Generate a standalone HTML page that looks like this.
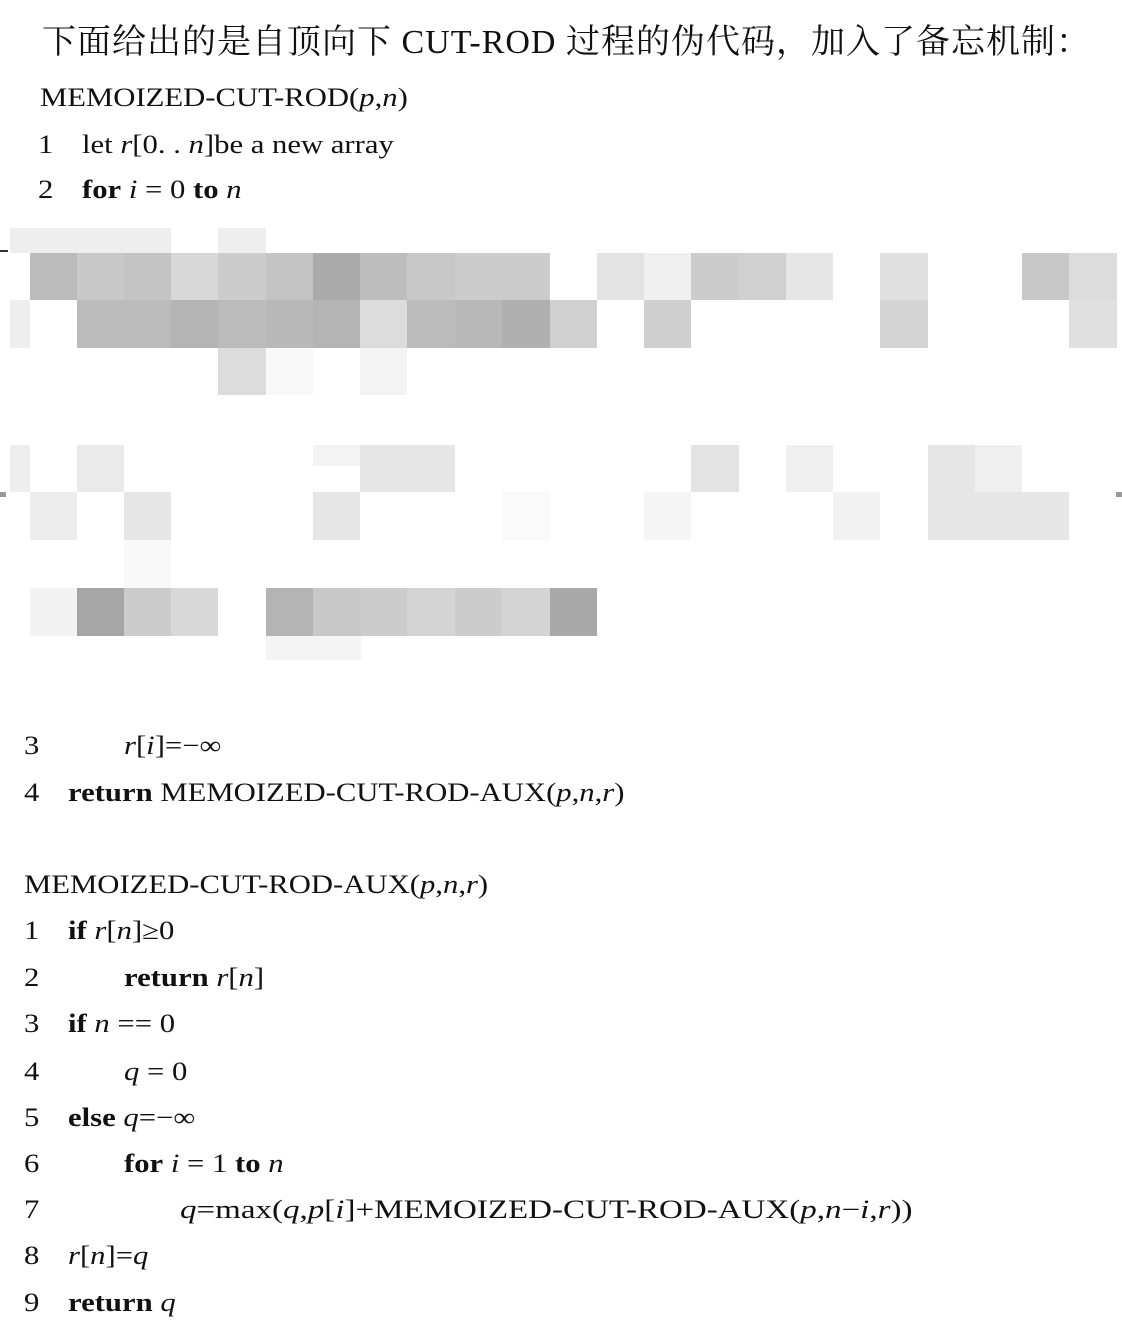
<!DOCTYPE html>
<html><head><meta charset="utf-8"><style>
body{margin:0;width:1122px;height:1334px;background:#fff;position:relative;overflow:hidden;font-family:"Liberation Serif","Noto Serif CJK SC",serif;color:#111}
.t{position:absolute;white-space:nowrap;font-size:26px;line-height:30px;transform:scaleX(1.18);transform-origin:0 50%}
.b{font-weight:bold}
i{font-style:italic}
.h{position:absolute;left:42px;top:14px;font-size:34px;letter-spacing:1px;font-family:"Liberation Serif","Noto Serif CJK SC",serif;white-space:nowrap}
.p{position:absolute}
</style></head><body>
<div class="h">下面给出的是自顶向下 CUT-ROD 过程的伪代码，加入了备忘机制：</div>
<div class="t" style="left:40px;top:83px">MEMOIZED-CUT-ROD(<i>p</i>,<i>n</i>)</div>
<div class="t" style="left:38px;top:130px">1</div><div class="t" style="left:82px;top:130px">let <i>r</i>[0. . <i>n</i>]be a new array</div>
<div class="t" style="left:38px;top:175px">2</div><div class="t" style="left:82px;top:175px"><span class="b">for</span> <i>i</i> = 0 <span class="b">to</span> <i>n</i></div>

<div class="t" style="left:24px;top:731px">3</div>
<div class="t" style="left:124px;top:731px"><i>r</i>[<i>i</i>]=−∞</div>
<div class="t" style="left:24px;top:778px">4</div>
<div class="t" style="left:68px;top:778px"><span class="b">return</span> MEMOIZED-CUT-ROD-AUX(<i>p</i>,<i>n</i>,<i>r</i>)</div>

<div class="t" style="left:24px;top:870px">MEMOIZED-CUT-ROD-AUX(<i>p</i>,<i>n</i>,<i>r</i>)</div>
<div class="t" style="left:24px;top:916px">1</div><div class="t" style="left:68px;top:916px"><span class="b">if</span> <i>r</i>[<i>n</i>]≥0</div>
<div class="t" style="left:24px;top:963px">2</div><div class="t" style="left:124px;top:963px"><span class="b">return</span> <i>r</i>[<i>n</i>]</div>
<div class="t" style="left:24px;top:1009px">3</div><div class="t" style="left:68px;top:1009px"><span class="b">if</span> <i>n</i> == 0</div>
<div class="t" style="left:24px;top:1057px">4</div><div class="t" style="left:124px;top:1057px"><i>q</i> = 0</div>
<div class="t" style="left:24px;top:1103px">5</div><div class="t" style="left:68px;top:1103px"><span class="b">else</span> <i>q</i>=−∞</div>
<div class="t" style="left:24px;top:1149px">6</div><div class="t" style="left:124px;top:1149px"><span class="b">for</span> <i>i</i> = 1 <span class="b">to</span> <i>n</i></div>
<div class="t" style="left:24px;top:1195px">7</div><div class="t" style="left:180px;top:1195px;transform:scaleX(1.27)"><i>q</i>=max(<i>q</i>,<i>p</i>[<i>i</i>]+MEMOIZED-CUT-ROD-AUX(<i>p</i>,<i>n</i>−<i>i</i>,<i>r</i>))</div>
<div class="t" style="left:24px;top:1241px">8</div><div class="t" style="left:68px;top:1241px"><i>r</i>[<i>n</i>]=<i>q</i></div>
<div class="t" style="left:24px;top:1288px">9</div><div class="t" style="left:68px;top:1288px"><span class="b">return</span> <i>q</i></div>

<svg class="p" style="left:0;top:0" width="1122" height="700">
<g shape-rendering="crispEdges">
<rect x="10" y="228" width="161" height="25" fill="#eee"/><rect x="218" y="228" width="48" height="25" fill="#eee"/>
<rect x="30" y="253" width="47" height="47" fill="#bbb"/><rect x="77" y="253" width="47" height="47" fill="#c8c8c8"/>
<rect x="124" y="253" width="47" height="47" fill="#c4c4c4"/><rect x="171" y="253" width="47" height="47" fill="#d8d8d8"/>
<rect x="218" y="253" width="48" height="47" fill="#ccc"/><rect x="266" y="253" width="47" height="47" fill="#c4c4c4"/>
<rect x="313" y="253" width="47" height="47" fill="#aaa"/><rect x="360" y="253" width="47" height="47" fill="#bdbdbd"/>
<rect x="407" y="253" width="48" height="47" fill="#c8c8c8"/><rect x="455" y="253" width="95" height="47" fill="#ccc"/>
<rect x="597" y="253" width="47" height="47" fill="#e3e3e3"/><rect x="644" y="253" width="47" height="47" fill="#f0f0f0"/>
<rect x="691" y="253" width="48" height="47" fill="#ccc"/><rect x="739" y="253" width="47" height="47" fill="#d0d0d0"/>
<rect x="786" y="253" width="47" height="47" fill="#e6e6e6"/><rect x="880" y="253" width="48" height="47" fill="#e0e0e0"/>
<rect x="1022" y="253" width="47" height="47" fill="#c8c8c8"/><rect x="1069" y="253" width="48" height="47" fill="#dcdcdc"/>
<rect x="10" y="300" width="20" height="48" fill="#eee"/>
<rect x="77" y="300" width="94" height="48" fill="#bbb"/><rect x="171" y="300" width="47" height="48" fill="#b4b4b4"/>
<rect x="218" y="300" width="48" height="48" fill="#bbb"/><rect x="266" y="300" width="47" height="48" fill="#b8b8b8"/>
<rect x="313" y="300" width="47" height="48" fill="#b4b4b4"/><rect x="360" y="300" width="47" height="48" fill="#dcdcdc"/>
<rect x="407" y="300" width="48" height="48" fill="#bbb"/><rect x="455" y="300" width="47" height="48" fill="#b8b8b8"/>
<rect x="502" y="300" width="48" height="48" fill="#b0b0b0"/><rect x="550" y="300" width="47" height="48" fill="#d0d0d0"/>
<rect x="644" y="300" width="47" height="48" fill="#cfcfcf"/><rect x="880" y="300" width="48" height="48" fill="#d4d4d4"/>
<rect x="1069" y="300" width="48" height="48" fill="#e0e0e0"/>
<rect x="218" y="348" width="48" height="47" fill="#dcdcdc"/><rect x="266" y="348" width="47" height="47" fill="#f8f8f8"/>
<rect x="360" y="348" width="47" height="47" fill="#f3f3f3"/>
<rect x="10" y="445" width="20" height="47" fill="#eee"/><rect x="77" y="445" width="47" height="47" fill="#eaeaea"/>
<rect x="313" y="445" width="47" height="21" fill="#f3f3f3"/><rect x="360" y="445" width="95" height="47" fill="#e6e6e6"/>
<rect x="691" y="445" width="48" height="47" fill="#e3e3e3"/><rect x="786" y="445" width="47" height="47" fill="#f0f0f0"/>
<rect x="928" y="445" width="47" height="47" fill="#e6e6e6"/><rect x="975" y="445" width="47" height="47" fill="#f0f0f0"/>
<rect x="30" y="492" width="47" height="48" fill="#ececec"/><rect x="124" y="492" width="47" height="48" fill="#e6e6e6"/>
<rect x="313" y="492" width="47" height="48" fill="#e6e6e6"/><rect x="502" y="492" width="48" height="48" fill="#fafafa"/>
<rect x="644" y="492" width="47" height="48" fill="#f5f5f5"/><rect x="833" y="492" width="47" height="48" fill="#f2f2f2"/>
<rect x="928" y="492" width="141" height="48" fill="#e6e6e6"/>
<rect x="124" y="540" width="47" height="48" fill="#f8f8f8"/>
<rect x="30" y="588" width="47" height="48" fill="#f2f2f2"/><rect x="77" y="588" width="47" height="48" fill="#a6a6a6"/>
<rect x="124" y="588" width="47" height="48" fill="#ccc"/><rect x="171" y="588" width="47" height="48" fill="#d8d8d8"/>
<rect x="266" y="588" width="47" height="48" fill="#b4b4b4"/><rect x="313" y="588" width="47" height="48" fill="#c8c8c8"/>
<rect x="360" y="588" width="47" height="48" fill="#ccc"/><rect x="407" y="588" width="48" height="48" fill="#d4d4d4"/>
<rect x="455" y="588" width="47" height="48" fill="#ccc"/><rect x="502" y="588" width="48" height="48" fill="#d4d4d4"/>
<rect x="550" y="588" width="47" height="48" fill="#a8a8a8"/>
<rect x="266" y="636" width="95" height="24" fill="#f4f4f4"/>
<rect x="0" y="250" width="8" height="2" fill="#333"/>
<rect x="0" y="492" width="6" height="5" fill="#999"/>
<rect x="1116" y="492" width="6" height="5" fill="#999"/>
</g></svg>
</body></html>
